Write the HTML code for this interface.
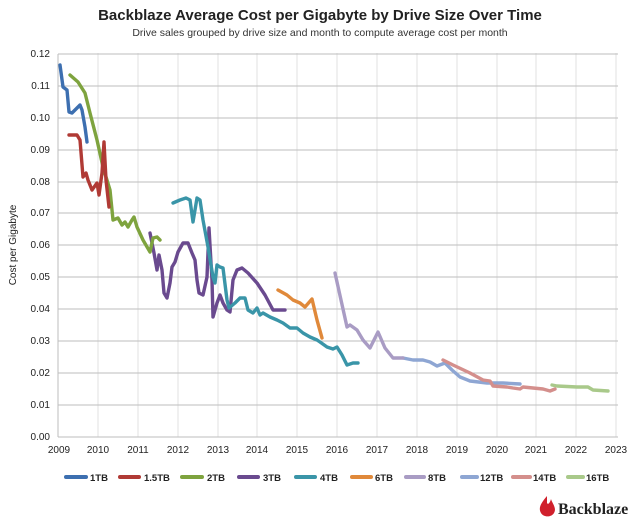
<!DOCTYPE html>
<html><head><meta charset="utf-8"><style>
body{margin:0;background:#fff;}
svg{display:block;font-family:"Liberation Sans",sans-serif;}
</style></head><body>
<svg width="640" height="525" viewBox="0 0 640 525" xmlns="http://www.w3.org/2000/svg">
<text x="320" y="20" text-anchor="middle" font-size="15" font-weight="bold" fill="#222">Backblaze Average Cost per Gigabyte by Drive Size Over Time</text>
<text x="320" y="36" text-anchor="middle" font-size="10.5" fill="#333">Drive sales grouped by drive size and month to compute average cost per month</text>
<g stroke="#e2e2e2" stroke-width="1">
<line x1="98" y1="53" x2="98" y2="437"/><line x1="138" y1="53" x2="138" y2="437"/><line x1="178" y1="53" x2="178" y2="437"/><line x1="218" y1="53" x2="218" y2="437"/><line x1="257" y1="53" x2="257" y2="437"/><line x1="297" y1="53" x2="297" y2="437"/><line x1="337" y1="53" x2="337" y2="437"/><line x1="377" y1="53" x2="377" y2="437"/><line x1="417" y1="53" x2="417" y2="437"/><line x1="457" y1="53" x2="457" y2="437"/><line x1="497" y1="53" x2="497" y2="437"/><line x1="536" y1="53" x2="536" y2="437"/><line x1="576" y1="53" x2="576" y2="437"/><line x1="616" y1="53" x2="616" y2="437"/>
</g>
<g stroke="#bdbdbd" stroke-width="1">
<line x1="58" y1="54" x2="618" y2="54"/><line x1="58" y1="86" x2="618" y2="86"/><line x1="58" y1="118" x2="618" y2="118"/><line x1="58" y1="150" x2="618" y2="150"/><line x1="58" y1="182" x2="618" y2="182"/><line x1="58" y1="213" x2="618" y2="213"/><line x1="58" y1="245" x2="618" y2="245"/><line x1="58" y1="277" x2="618" y2="277"/><line x1="58" y1="309" x2="618" y2="309"/><line x1="58" y1="341" x2="618" y2="341"/><line x1="58" y1="373" x2="618" y2="373"/><line x1="58" y1="405" x2="618" y2="405"/><line x1="58" y1="437" x2="618" y2="437"/>
<line x1="58" y1="54" x2="58" y2="437"/>
</g>
<g font-size="10" fill="#222" text-anchor="end">
<text x="50" y="57">0.12</text><text x="50" y="89">0.11</text><text x="50" y="121">0.10</text><text x="50" y="153">0.09</text><text x="50" y="185">0.08</text><text x="50" y="216">0.07</text><text x="50" y="248">0.06</text><text x="50" y="280">0.05</text><text x="50" y="312">0.04</text><text x="50" y="344">0.03</text><text x="50" y="376">0.02</text><text x="50" y="408">0.01</text><text x="50" y="440">0.00</text>
</g>
<g font-size="10" fill="#222" text-anchor="middle">
<text x="59" y="453">2009</text><text x="98" y="453">2010</text><text x="138" y="453">2011</text><text x="178" y="453">2012</text><text x="218" y="453">2013</text><text x="257" y="453">2014</text><text x="297" y="453">2015</text><text x="337" y="453">2016</text><text x="377" y="453">2017</text><text x="417" y="453">2018</text><text x="457" y="453">2019</text><text x="497" y="453">2020</text><text x="536" y="453">2021</text><text x="576" y="453">2022</text><text x="616" y="453">2023</text>
</g>
<text transform="translate(16,245) rotate(-90)" text-anchor="middle" font-size="10" fill="#222">Cost per Gigabyte</text>
<g fill="none" stroke-width="3.4" stroke-linejoin="round" stroke-linecap="round">
<polyline stroke="#8ea6d3" points="403,358 413,360 423,360 430,362 437,366 445,363 452,370 460,377 470,381 487,383 503,383 520,384"/>
<polyline stroke="#d48f8c" points="443,360 453,365 470,373 483,380 490,381 493,386 507,387 513,388 520,389 523,387 533,388 543,389 550,391 555,389"/>
<polyline stroke="#a9c98a" points="552,385 557,386 577,387 588,387 593,390 608,391"/>
<polyline stroke="#a99cc4" points="335,273 347,327 350,325 357,330 363,340 370,348 378,332 385,348 393,358 403,358"/>
<polyline stroke="#e0893a" points="278,290 287,295 293,300 300,303 305,307 312,299 317,320 322,338"/>
<polyline stroke="#6a4a8f" points="150,233 154,253 157,270 159,255 162,270 164,293 167,298 170,283 172,267 175,262 178,252 183,243 188,243 192,253 195,260 197,280 199,293 203,295 207,277 209,228 212,280 213,317 217,303 220,295 223,303 227,310 230,312 233,280 237,270 242,268 248,273 257,283 265,295 273,310 285,310"/>
<polyline stroke="#3a95a8" points="173,203 180,200 186,198 190,200 193,222 197,198 200,200 203,220 208,247 213,277 215,283 217,265 220,267 223,268 227,300 229,308 235,303 240,298 245,298 248,310 253,313 257,308 260,315 263,313 270,317 277,320 283,323 290,328 297,328 303,333 310,337 317,340 320,342 327,347 333,349 337,347 342,355 347,365 353,363 358,363"/>
<polyline stroke="#7ea33e" points="70,75 78,82 85,93 90,113 97,140 103,167 110,190 113,220 118,218 122,225 125,222 128,227 132,220 134,217 137,227 143,240 150,252 153,238 157,237 160,240"/>
<polyline stroke="#b03a35" points="69,135 77,135 80,140 83,177 86,173 88,180 92,190 97,183 99,195 102,173 104,142 106,180 109,207"/>
<polyline stroke="#3d6fb0" points="60,65 63,87 67,90 69,112 72,113 77,108 80,105 82,110 85,127 87,142"/>
</g>
<g font-size="9.5" font-weight="bold" fill="#222" stroke-linecap="round">
<line x1="66" y1="477" x2="86" y2="477" stroke="#3d6fb0" stroke-width="4"/><text x="90" y="481">1TB</text>
<line x1="120" y1="477" x2="139" y2="477" stroke="#b03a35" stroke-width="4"/><text x="144" y="481">1.5TB</text>
<line x1="182" y1="477" x2="202" y2="477" stroke="#7ea33e" stroke-width="4"/><text x="207" y="481">2TB</text>
<line x1="239" y1="477" x2="258" y2="477" stroke="#6a4a8f" stroke-width="4"/><text x="263" y="481">3TB</text>
<line x1="296" y1="477" x2="315" y2="477" stroke="#3a95a8" stroke-width="4"/><text x="320" y="481">4TB</text>
<line x1="352" y1="477" x2="371" y2="477" stroke="#e0893a" stroke-width="4"/><text x="375" y="481">6TB</text>
<line x1="406" y1="477" x2="424" y2="477" stroke="#a99cc4" stroke-width="4"/><text x="428" y="481">8TB</text>
<line x1="462" y1="477" x2="477" y2="477" stroke="#8ea6d3" stroke-width="4"/><text x="480" y="481">12TB</text>
<line x1="513" y1="477" x2="530" y2="477" stroke="#d48f8c" stroke-width="4"/><text x="533" y="481">14TB</text>
<line x1="568" y1="477" x2="583" y2="477" stroke="#a9c98a" stroke-width="4"/><text x="586" y="481">16TB</text>
</g>
<path d="M547,496 C541,503 538,508 541,513 C543,517 551,518 554,513 C557,508 552,503 551,499 C550,503 548,505 547,503 Z" fill="#d0202c"/>
<text x="558" y="514" font-family="Liberation Serif,serif" font-size="16" font-weight="bold" fill="#222">Backblaze</text>
</svg>
</body></html>
